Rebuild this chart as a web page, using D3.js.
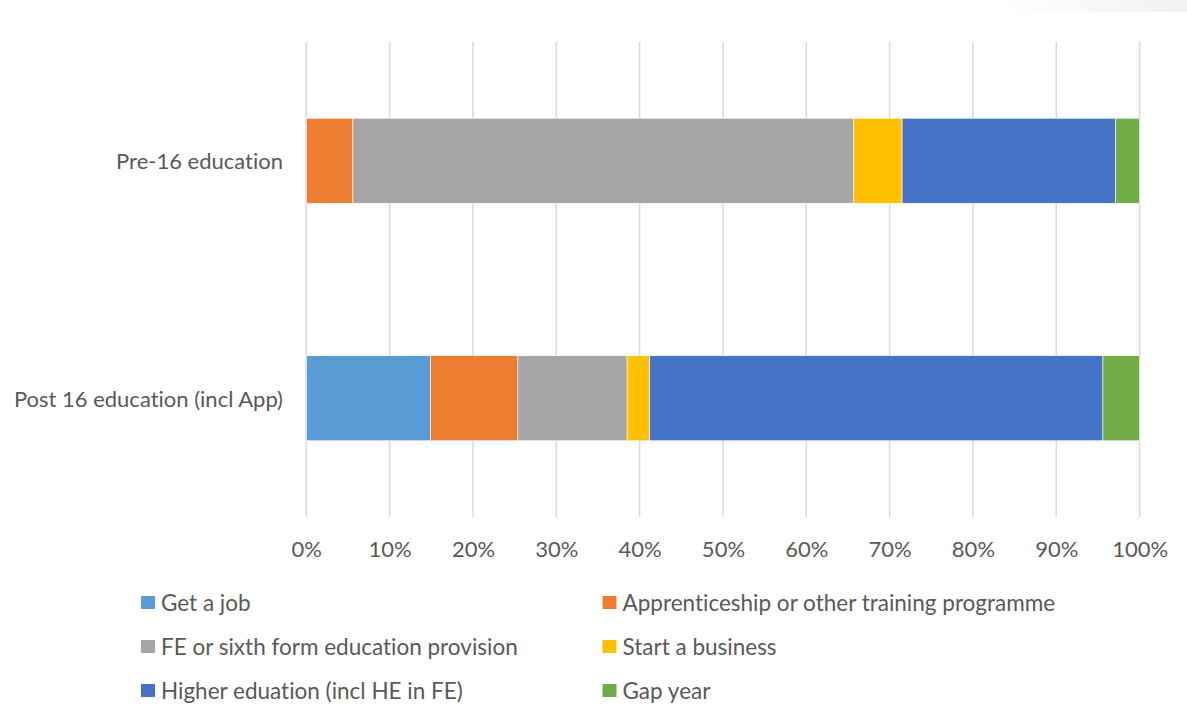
<!DOCTYPE html>
<html>
<head>
<meta charset="utf-8">
<script src="https://cdn.jsdelivr.net/npm/d3@7/dist/d3.min.js"></script>
<style>
  html, body { margin: 0; padding: 0; background: #fff; }
  svg { display: block; }
  text { font-family: Lato, "Open Sans", sans-serif; fill: #595959; font-variant-ligatures: none; font-feature-settings: "liga" 0, "clig" 0; }
</style>
</head>
<body>
<svg id="chart" width="1187" height="704"></svg>
<script>
// Destinations by stage of education (percent of respondents)
const categories = ["Pre-16 education", "Post 16 education (incl App)"];
const seriesNames = [
  "Get a job",
  "Apprenticeship or other training programme",
  "FE or sixth form education provision",
  "Start a business",
  "Higher eduation (incl HE in FE)",
  "Gap year"
];
const getAJob       = [0.0, 14.9];
const apprenticeship = [5.6, 10.5];
const feSixthForm   = [60.1, 13.1];
const startBusiness = [5.8, 2.7];
const higherEd      = [25.6, 54.4];
const gapYear       = [2.9, 4.4];
const tickValues = [0, 10, 20, 30, 40, 50, 60, 70, 80, 90, 100];
const colors = ["#5B9BD5", "#ED7D31", "#A5A5A5", "#FFC000", "#4472C4", "#70AD47"];

const seriesValues = [getAJob, apprenticeship, feSixthForm, startBusiness, higherEd, gapYear];
const rows = categories.map((c, i) => {
  const r = { category: c };
  seriesNames.forEach((s, j) => { r[s] = seriesValues[j][i]; });
  return r;
});

const svg = d3.select("#chart");

// faint shading in the top-right corner of the canvas
const defs = svg.append("defs");
const grad = defs.append("linearGradient").attr("id", "corner")
  .attr("x1", "0").attr("y1", "0").attr("x2", "1").attr("y2", "0");
grad.append("stop").attr("offset", "0").attr("stop-color", "#ffffff");
grad.append("stop").attr("offset", "1").attr("stop-color", "#f2f2f2");
svg.append("rect").attr("x", 1000).attr("y", 0).attr("width", 187).attr("height", 12)
  .attr("fill", "url(#corner)");

const margin = { left: 306.3, right: 1139.6, top: 42, bottom: 517 };

const x = d3.scaleLinear().domain([0, 100]).range([margin.left, margin.right]);
const y = d3.scaleBand().domain(categories)
  .range([margin.top, margin.bottom])
  .paddingInner(0.642).paddingOuter(0.321);

// vertical gridlines
svg.append("g")
  .selectAll("line")
  .data(tickValues)
  .join("line")
  .attr("x1", d => x(d)).attr("x2", d => x(d))
  .attr("y1", margin.top).attr("y2", margin.bottom)
  .attr("stroke", "#d9d9d9").attr("stroke-width", 1.5);

// stacked bars
const stack = d3.stack().keys(seriesNames)(rows);
svg.append("g")
  .selectAll("g")
  .data(stack)
  .join("g")
  .attr("fill", (d, i) => colors[i])
  .selectAll("rect")
  .data(d => d.filter(p => p[1] - p[0] > 0))
  .join("rect")
  .attr("x", d => x(d[0]))
  .attr("width", d => x(d[1]) - x(d[0]))
  .attr("y", d => y(d.data.category))
  .attr("height", y.bandwidth())
  .attr("stroke", "#ffffff").attr("stroke-width", 0.6);

// x axis labels
const xAxis = d3.axisBottom(x).tickValues(tickValues).tickFormat(d => d + "%").tickSize(0).tickPadding(0);
const gx = svg.append("g").attr("transform", `translate(0, ${margin.bottom})`).call(xAxis);
gx.select(".domain").remove();
gx.selectAll("text")
  .attr("dy", null).attr("y", 31).attr("dominant-baseline", "central")
  .style("font-family", "Lato, sans-serif").style("font-size", "22px").attr("fill", "#595959");

// category labels
const yAxis = d3.axisLeft(y).tickSize(0).tickPadding(0);
const gy = svg.append("g").attr("transform", `translate(283, 0)`).call(yAxis);
gy.select(".domain").remove();
gy.selectAll("text")
  .attr("dy", null).attr("x", 0).attr("dominant-baseline", "central")
  .style("font-family", "Lato, sans-serif").style("font-size", "22px").attr("fill", "#595959");

// legend: two columns, three rows
const legendCols = [141, 602.5];
const legendRows = [602.5, 646.5, 690.5];
const legend = svg.append("g")
  .selectAll("g")
  .data(seriesNames)
  .join("g")
  .attr("transform", (d, i) => `translate(${legendCols[i % 2]}, ${legendRows[Math.floor(i / 2)]})`);
legend.append("rect")
  .attr("x", 0).attr("y", -6.5).attr("width", 14).attr("height", 13)
  .attr("fill", (d, i) => colors[i]);
legend.append("text")
  .attr("x", 20).attr("y", 0).attr("dominant-baseline", "central")
  .style("font-size", "22.5px")
  .text(d => d);
</script>
</body>
</html>
